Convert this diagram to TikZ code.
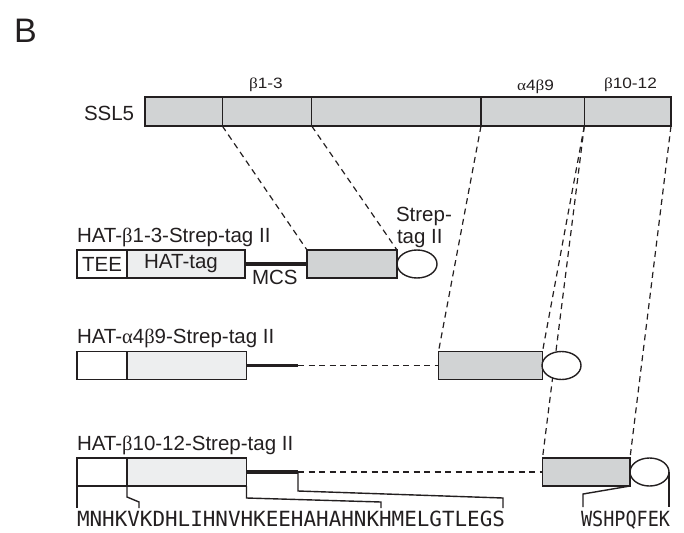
\documentclass[tikz,border=0pt]{standalone}
\usepackage{fontspec}
\usepackage{graphicx}
\setmainfont{Liberation Sans}
\newfontfamily\grk{Liberation Serif}
\newfontfamily\seqfont{DejaVu Sans Mono}
\usetikzlibrary{shapes.geometric}
\definecolor{linec}{HTML}{231F20}
\definecolor{grayfill}{HTML}{D1D3D4}
\definecolor{lightfill}{HTML}{EDEEEF}
\newcommand{\gb}{{\grk β}}
\newcommand{\ga}{{\grk α}}
\begin{document}
\begin{tikzpicture}[x=1pt,y=-1pt,
  every node/.style={inner sep=0pt, outer sep=0pt, text=linec},
  box/.style={draw=linec, line width=1.4pt, minimum height=28pt, anchor=north west},
  segbox/.style={box, fill=grayfill, minimum height=29pt},
  teebox/.style={box, fill=white, minimum width=50pt},
  hatbox/.style={box, fill=lightfill},
  insbox/.style={box, fill=grayfill},
  strep/.style={ellipse, draw=linec, fill=white, line width=1.4pt, minimum width=39pt, minimum height=28pt},
  mcs/.style={draw=linec, line width=3.6pt},
  dashline/.style={draw=linec, line width=1.2pt, dash pattern=on 6pt off 4.5pt},
  thin/.style={draw=linec, line width=1.4pt},
  lab/.style={font=\fontsize{20.5}{24}\selectfont, anchor=base west},
  small/.style={font=\fontsize{15}{17}\selectfont, anchor=base west, xscale=1.15},
]
\useasboundingbox (0,0) rectangle (684,532);

% panel letter
\node[font=\fontsize{34}{40}\selectfont, anchor=base west] (letter) at (14,42.3) {B};

% SSL5 bar
\node[lab] (ssllab) at (84,120) {SSL5};
\node[segbox, minimum width=77.3pt] (s1) at (145,97) {};
\node[segbox, minimum width=89.4pt] (s2) at (222.3,97) {};
\node[segbox, minimum width=169.3pt] (s3) at (311.7,97) {};
\node[segbox, minimum width=103.3pt] (s4) at (481,97) {};
\node[segbox, minimum width=86.7pt] (s5) at (584.3,97) {};
\node[small] (l1) at (249,88.3) {\gb1-3};
\node[small] (l2) at (517,90.5) {\ga4\gb9};
\node[small] (l3) at (604,88.3) {\gb10-12};

% row 1
\node[lab] (r1lab) at (77,242) {HAT-\gb1-3-Strep-tag II};
\node[teebox] (tee1) at (77,250) {};
\node[hatbox, minimum width=118pt] (hat1) at (127,250) {};
\node[insbox, minimum width=90pt] (g1) at (307,250) {};
\node[font=\fontsize{20.5}{24}\selectfont] at (tee1.center) {TEE};
\node[font=\fontsize{20.5}{24}\selectfont] at ([xshift=-5pt]hat1.center) {HAT-tag};
\draw[mcs] (hat1.east) -- (g1.west);
\node[lab] (mcslab) at (252,284) {MCS};
\node[lab] (st1) at (396,221) {Strep-};
\node[lab] (st2) at (397,243.5) {tag II};

% row 2
\node[lab] (r2lab) at (77,343.5) {HAT-\ga4\gb9-Strep-tag II};
\node[teebox] (tee2) at (77,351.5) {};
\node[hatbox, minimum width=119.5pt] (hat2) at (127,351.5) {};
\node[insbox, minimum width=104pt] (g2) at (438.5,351.5) {};
\coordinate (m2) at (298,365.5);
\draw[mcs] (hat2.east) -- (m2);
\draw[dashline] (m2) -- (g2.west);

% row 3
\node[lab] (r3lab) at (77,450) {HAT-\gb10-12-Strep-tag II};
\node[teebox] (tee3) at (77,458) {};
\node[hatbox, minimum width=119.5pt] (hat3) at (127,458) {};
\node[insbox, minimum width=87.5pt] (g3) at (542.5,458) {};
\coordinate (m3) at (298,472);
\draw[mcs] (hat3.east) -- (m3);
\draw[dashline] (m3) -- (g3.west);

% projection lines
\draw[dashline] (s2.south west) -- (g1.north west);
\draw[dashline] (s2.south east) -- (g1.north east);
\draw[dashline] (s4.south west) -- (g2.north west);
\draw[dashline] (s4.south east) -- (g2.north east);
\draw[dashline] (s5.south west) -- (g3.north west);
\draw[dashline] (s5.south east) -- (g3.north east);

% Strep-tag II ellipses
\node[strep, minimum width=40pt] (e1) at (417,264) {};
\node[strep] (e2) at (561.5,365.5) {};
\node[strep] (e3) at (649.5,472) {};

% sequence brackets
\draw[thin] (tee3.south west) -- (77,508);
\draw[thin] (tee3.south east) -- (127,497) -- (139,502) -- (139,508);
\draw[thin] (hat3.south east) -- (246.5,498) -- (381,502) -- (381,508);
\draw[thin] (m3) -- (298,491) -- (503,498) -- (503,508);
\draw[thin] (g3.south east) -- (583,494) -- (583,507);
\draw[thin] (e3.east) -- (669,507);

\node[anchor=north west] (seq1) at (77,511) {\resizebox{428pt}{15.5pt}{\seqfont MNHKVKDHLIHNVHKEEHAHAHNKHMELGTLEGS}};
\node[anchor=north west] (seq2) at (581,511) {\resizebox{89pt}{15.5pt}{\seqfont WSHPQFEK}};
\end{tikzpicture}
\end{document}
